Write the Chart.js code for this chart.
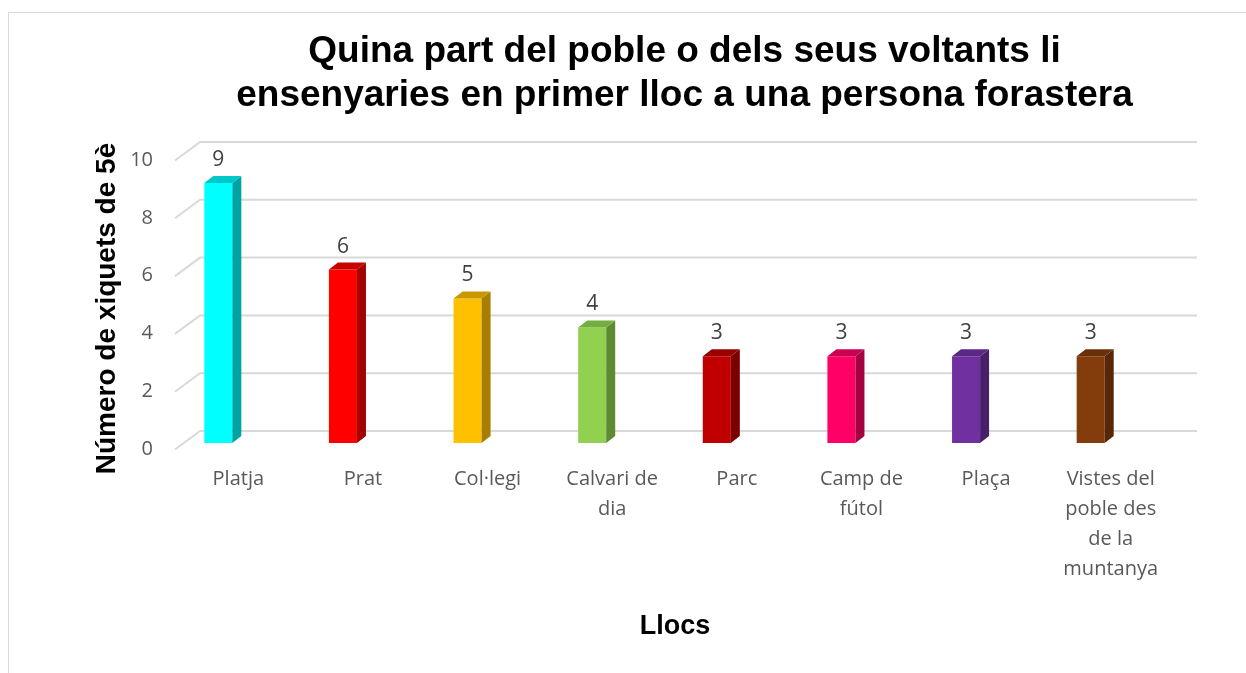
<!DOCTYPE html>
<html>
<head>
<meta charset="utf-8">
<script src="https://cdn.jsdelivr.net/npm/chart.js@4/dist/chart.umd.min.js"></script>
<style>
  html, body { margin: 0; padding: 0; background: #ffffff; }
  #wrap { width: 1246px; height: 673px; }
</style>
</head>
<body>
<div id="wrap"><canvas id="c" width="1246" height="673"></canvas></div>
<script>
// ---- data ----
const categories = ['Platja', 'Prat', 'Col·legi', 'Calvari de dia', 'Parc', 'Camp de fútol', 'Plaça', 'Vistes del poble des de la muntanya'];
const categoryLines = [['Platja'], ['Prat'], ['Col·legi'], ['Calvari de', 'dia'], ['Parc'], ['Camp de', 'fútol'], ['Plaça'], ['Vistes del', 'poble des', 'de la', 'muntanya']];
const values = [9, 6, 5, 4, 3, 3, 3, 3];
const yTickValues = [0, 2, 4, 6, 8, 10];
const titleLines = ['Quina part del poble o dels seus voltants li', 'ensenyaries en primer lloc a una persona forastera'];
const yTitle = 'Número de xiquets de 5è';
const xTitle = 'Llocs';

// ---- styles ----
const frontColors = ['#00FFFF', '#FF0000', '#FFC000', '#92D050', '#C00000', '#FF0066', '#7030A0', '#843C0C'];
const sideColors  = ['#00A3A3', '#A30000', '#A87E00', '#5E8A33', '#7A0000', '#A50042', '#4A1F6A', '#572708'];
const topColors   = ['#00C8C8', '#C80000', '#C99700', '#76AD41', '#9A0000', '#CC0052', '#5C2785', '#6B300A'];
const DEPTH_X = 9, DEPTH_Y = 7;

const deco = {
  id: 'deco',
  afterLayout(chart) {
    const tb = chart.titleBlock;
    if (tb && !tb._shifted) {
      const orig = tb.draw.bind(tb);
      tb.draw = function (area) {
        const ctx = chart.ctx; ctx.save(); ctx.translate(108, 2); orig(area); ctx.restore();
      };
      tb._shifted = true;
    }
    const ys = chart.scales.y;
    if (ys && !ys._shifted) {
      const o = ys.drawTitle.bind(ys);
      ys.drawTitle = function () { const ctx = chart.ctx; ctx.save(); ctx.translate(0, 10); o(); ctx.restore(); };
      ys._shifted = true;
    }
    const xs = chart.scales.x;
    if (xs && !xs._shifted) {
      const o = xs.drawTitle.bind(xs);
      xs.drawTitle = function () { const ctx = chart.ctx; ctx.save(); ctx.translate(20.5, 0); o(); ctx.restore(); };
      xs._shifted = true;
    }
  },
  beforeDraw(chart) {
    const ctx = chart.ctx;
    ctx.save();
    ctx.strokeStyle = '#D9D9D9';
    ctx.lineWidth = 1;
    ctx.strokeRect(8.5, 12.5, chart.width + 20, chart.height + 20);
    ctx.restore();
  },
  beforeDatasetsDraw(chart) {
    const ctx = chart.ctx, ys = chart.scales.y, a = chart.chartArea;
    ctx.save();
    ctx.strokeStyle = '#D9D9D9';
    ctx.lineWidth = 2;
    ys.ticks.forEach(t => {
      const y = ys.getPixelForValue(t.value);
      ctx.beginPath();
      ctx.moveTo(a.left + 19, y + 6.5);
      ctx.lineTo(a.left + 44, y - 12);
      ctx.lineTo(a.right + 44, y - 12);
      ctx.stroke();
    });
    ctx.restore();
  },
  afterDatasetsDraw(chart) {
    const ctx = chart.ctx;
    const meta = chart.getDatasetMeta(0);
    ctx.save();
    meta.data.forEach((bar, i) => {
      const p = bar.getProps(['x', 'y', 'base', 'width'], true);
      const l = p.x - p.width / 2, r = p.x + p.width / 2;
      // side face
      ctx.fillStyle = sideColors[i];
      ctx.beginPath();
      ctx.moveTo(r, p.base);
      ctx.lineTo(r, p.y);
      ctx.lineTo(r + DEPTH_X, p.y - DEPTH_Y);
      ctx.lineTo(r + DEPTH_X, p.base - DEPTH_Y);
      ctx.closePath();
      ctx.fill();
      // top face
      ctx.fillStyle = topColors[i];
      ctx.beginPath();
      ctx.moveTo(l, p.y);
      ctx.lineTo(l + DEPTH_X, p.y - DEPTH_Y);
      ctx.lineTo(r + DEPTH_X, p.y - DEPTH_Y);
      ctx.lineTo(r, p.y);
      ctx.closePath();
      ctx.fill();
      // value label
      ctx.fillStyle = '#404040';
      ctx.font = '21px "Open Sans"';
      ctx.textAlign = 'center';
      ctx.textBaseline = 'middle';
      ctx.fillText(String(values[i]), p.x, p.y - 23);
    });
    ctx.restore();
  }
};

new Chart(document.getElementById('c'), {
  type: 'bar',
  data: {
    labels: categories,
    datasets: [{
      data: values,
      backgroundColor: frontColors,
      borderWidth: 0,
      barPercentage: 0.225,
      categoryPercentage: 1.0
    }]
  },
  options: {
    responsive: false,
    devicePixelRatio: 1,
    animation: false,
    layout: { padding: { left: 0, right: 93, top: 0, bottom: 0 } },
    plugins: {
      legend: { display: false },
      tooltip: { enabled: false },
      title: {
        display: true,
        text: titleLines,
        color: '#000000',
        font: { family: '"Liberation Sans", Arial, sans-serif', size: 37, weight: 'bold', lineHeight: 44 / 37 },
        padding: { top: 28, bottom: 38 }
      }
    },
    scales: {
      x: {
        grid: { display: false, drawTicks: false },
        border: { display: false },
        ticks: {
          color: '#595959',
          font: { family: '"Open Sans", sans-serif', size: 20, lineHeight: 1.5 },
          padding: 21,
          labelOffset: 20,
          maxRotation: 0,
          autoSkip: false,
          callback: (v, i) => categoryLines[i]
        },
        title: {
          display: true,
          text: xTitle,
          color: '#000000',
          font: { family: '"Liberation Sans", Arial, sans-serif', size: 27, weight: 'bold', lineHeight: 1.2 },
          padding: { top: 0, bottom: 30 }
        },
        afterFit: s => { s.height = 230; }
      },
      y: {
        min: 0,
        max: 10,
        grid: { display: false, drawTicks: false },
        border: { display: false },
        afterBuildTicks: s => { s.ticks = yTickValues.map(v => ({ value: v })); },
        ticks: {
          color: '#595959',
          font: { family: '"Open Sans", sans-serif', size: 20 },
          padding: 3,
          labelOffset: 6
        },
        title: {
          display: true,
          text: yTitle,
          color: '#000000',
          font: { family: '"Liberation Sans", Arial, sans-serif', size: 28, weight: 'bold', lineHeight: 1.2 },
          padding: { top: 90, bottom: 0 }
        },
        afterFit: s => { s.width = 156; }
      }
    }
  },
  plugins: [deco]
});
</script>
</body>
</html>
